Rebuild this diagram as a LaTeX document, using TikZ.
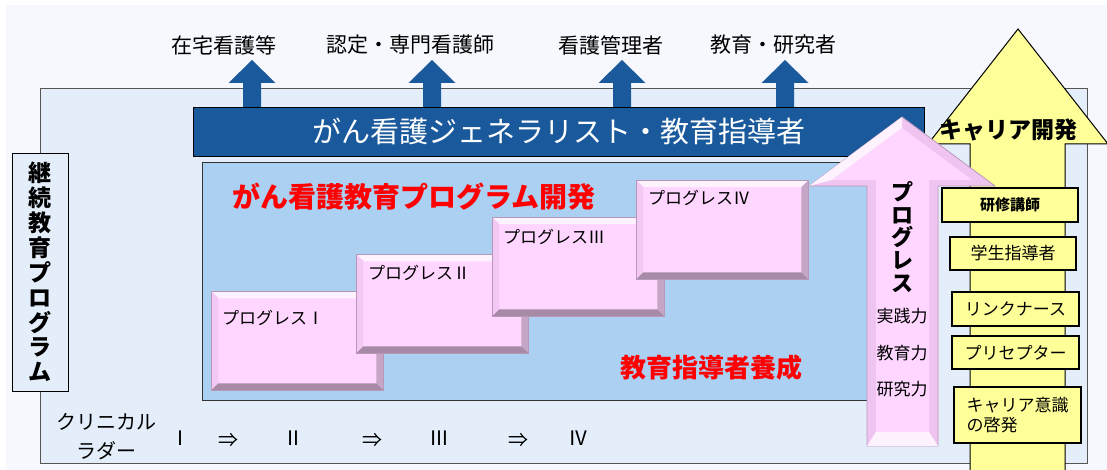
\documentclass[tikz,border=0pt]{standalone}
\usepackage{fontspec}
\setmainfont{Noto Sans CJK JP}
\definecolor{bgc}{HTML}{F6F8FE}
\definecolor{framefill}{HTML}{E3EEFA}
\definecolor{framec}{HTML}{555555}
\definecolor{bandc}{HTML}{1A5A9C}
\definecolor{panelc}{HTML}{ABD0F2}
\definecolor{pinkface}{HTML}{FFD6FF}
\definecolor{pinktop}{HTML}{FFF2FF}
\definecolor{pinkleft}{HTML}{F4C8F4}
\definecolor{pinkright}{HTML}{C6A6C6}
\definecolor{pinkbot}{HTML}{A68AA6}
\definecolor{pinkline}{HTML}{B898B8}
\definecolor{pinkbevel}{HTML}{F0C4F0}
\definecolor{yel}{HTML}{FFFF99}
\definecolor{redt}{HTML}{FF0000}
\begin{document}
\begin{tikzpicture}[x=1pt,y=-1pt,
  toplbl/.style={inner sep=0pt, font=\fontsize{21}{25}\selectfont},
  band/.style={draw=black, line width=0.8pt, fill=bandc, text=white, inner sep=0pt,
    minimum width=731pt, minimum height=49pt, font=\fontsize{29}{33}\selectfont},
  redtitle/.style={inner sep=0pt, text=redt, font=\fontsize{28}{32}\selectfont\bfseries},
  plbl/.style={inner sep=0pt, anchor=west, font=\fontsize{17}{20}\selectfont},
  ybox/.style={draw=black, line width=1.6pt, fill=yel, inner sep=0pt, font=\fontsize{17}{20}\selectfont},
  bottxt/.style={inner sep=0pt, font=\fontsize{20}{24}\selectfont},
  pbox/.style={draw=pinkline, line width=0.5pt, fill=pinkface, anchor=north west,
    minimum width=172pt, minimum height=99pt, inner sep=0pt,
    path picture={
      \fill[pinktop] (path picture bounding box.north west) -- (path picture bounding box.north east)
        -- ([shift={(-7pt,-7pt)}]path picture bounding box.north east)
        -- ([shift={(7pt,-7pt)}]path picture bounding box.north west) -- cycle;
      \fill[pinkleft] (path picture bounding box.north west)
        -- ([shift={(7pt,-7pt)}]path picture bounding box.north west)
        -- ([shift={(7pt,7pt)}]path picture bounding box.south west)
        -- (path picture bounding box.south west) -- cycle;
      \fill[pinkright] (path picture bounding box.north east)
        -- ([shift={(-7pt,-7pt)}]path picture bounding box.north east)
        -- ([shift={(-7pt,7pt)}]path picture bounding box.south east)
        -- (path picture bounding box.south east) -- cycle;
      \fill[pinkbot] (path picture bounding box.south west)
        -- ([shift={(7pt,7pt)}]path picture bounding box.south west)
        -- ([shift={(-7pt,7pt)}]path picture bounding box.south east)
        -- (path picture bounding box.south east) -- cycle;
    }}
]
\useasboundingbox (0,0) rectangle (1107,470);
\fill[white] (0,0) rectangle (1107,470);
\fill[bgc] (6,5) rectangle (1107,470);

% outer frame
\draw[framec, fill=framefill, line width=0.8pt] (40,88) rectangle (1087,463);

% left vertical box
\node[draw=black, line width=0.8pt, fill=framefill, minimum width=56pt, minimum height=238pt,
  inner sep=0pt, align=center, font=\fontsize{23}{24.9}\selectfont\bfseries] (keizoku) at (40,272)
  {継\\続\\教\\育\\プ\\ロ\\グ\\ラ\\ム};

% blue up arrows
\foreach \c in {252,432,622,785}
  \fill[bandc] (\c-9,108) -- (\c-9,83) -- (\c-23.5,83) -- (\c,60) -- (\c+23.5,83) -- (\c+9,83) -- (\c+9,108) -- cycle;

% top labels
\node[toplbl] (l1) at (224,45) {在宅看護等};
\node[toplbl] (l2) at (410,45) {認定・専門看護師};
\node[toplbl] (l3) at (611,45) {看護管理者};
\node[toplbl] (l4) at (773,45) {教育・研究者};

% band
\node[band] (band) at (558.5,131.5) {がん看護ジェネラリスト・教育指導者};

% medium blue panel
\node[draw=black!80, line width=0.6pt, fill=panelc, anchor=north west, inner sep=0pt,
  minimum width=698pt, minimum height=238pt] (panel) at (202,162) {};

\node[redtitle] (title) at (414,197) {がん看護教育プログラム開発};

% pink step boxes
\node[pbox] (p1) at (211,291) {};
\node[plbl] (p1l) at (222,318) {プログレスⅠ};
\node[pbox] (p2) at (356,254) {};
\node[plbl] (p2l) at (368,273) {プログレスⅡ};
\node[pbox] (p3) at (492,217) {};
\node[plbl] (p3l) at (503,237) {プログレスⅢ};
\node[pbox] (p4) at (636,180) {};
\node[plbl] (p4l) at (648,198) {プログレスⅣ};

\node[redtitle, font=\fontsize{26}{30}\selectfont\bfseries] (yosei) at (711,368) {教育指導者養成};

% yellow arrow
\draw[black, line width=1pt, fill=yel] (970,472) -- (970,144) -- (928,144) -- (1018,29)
  -- (1108,144) -- (1065,144) -- (1065,472);
\node[inner sep=0pt, font=\fontsize{23}{26}\selectfont\bfseries] (career) at (1008,130) {キャリア開発};

% pink arrow
\draw[pinkline, line width=0.8pt, fill=pinkbevel] (867,446) -- (867,186) -- (809,186) -- (902,117)
  -- (995,186) -- (938,186) -- (938,446) -- cycle;
\fill[pinktop] (809,186) -- (902,117) -- (902,128) -- (832,180) -- cycle;
\fill[pinkface] (876,432) -- (876,180) -- (832,180) -- (902,128) -- (972,180) -- (929,180) -- (929,432) -- cycle;
\fill[pinktop] (867,446) -- (876,432) -- (929,432) -- (938,446) -- cycle;
\node[inner sep=0pt, align=center, font=\fontsize{22}{22.6}\selectfont\bfseries] (prog) at (902,237)
  {プ\\ロ\\グ\\レ\\ス};
\node[inner sep=0pt, font=\fontsize{17}{20}\selectfont] (jissen) at (902,316) {実践力};
\node[inner sep=0pt, font=\fontsize{17}{20}\selectfont] (kyoiku) at (902,353) {教育力};
\node[inner sep=0pt, font=\fontsize{17}{20}\selectfont] (kenkyu) at (902,389) {研究力};

% yellow boxes
\node[ybox, minimum width=136pt, minimum height=34pt, font=\fontsize{15}{18}\selectfont\bfseries] (y1) at (1010,205) {研修講師};
\node[ybox, minimum width=126pt, minimum height=33pt] (y2) at (1013,253.5) {学生指導者};
\node[ybox, minimum width=127pt, minimum height=34pt] (y3) at (1015.5,309) {リンクナース};
\node[ybox, minimum width=127pt, minimum height=33pt] (y4) at (1015.5,352.5) {プリセプター};
\node[ybox, minimum width=127pt, minimum height=56pt, align=left] (y5) at (1017.5,415)
  {キャリア意識\\の啓発};

% bottom ladder
\node[bottxt, align=center, font=\fontsize{20}{29}\selectfont] (ladder) at (106,437) {クリニカル\\ラダー};
\node[bottxt] (r1) at (180,438) {Ⅰ};
\node[bottxt] (a1) at (228,440) {⇒};
\node[bottxt] (r2) at (293,438) {Ⅱ};
\node[bottxt] (a2) at (372,440) {⇒};
\node[bottxt] (r3) at (439,438) {Ⅲ};
\node[bottxt] (a3) at (518,440) {⇒};
\node[bottxt] (r4) at (578,438) {Ⅳ};
\end{tikzpicture}
\end{document}
